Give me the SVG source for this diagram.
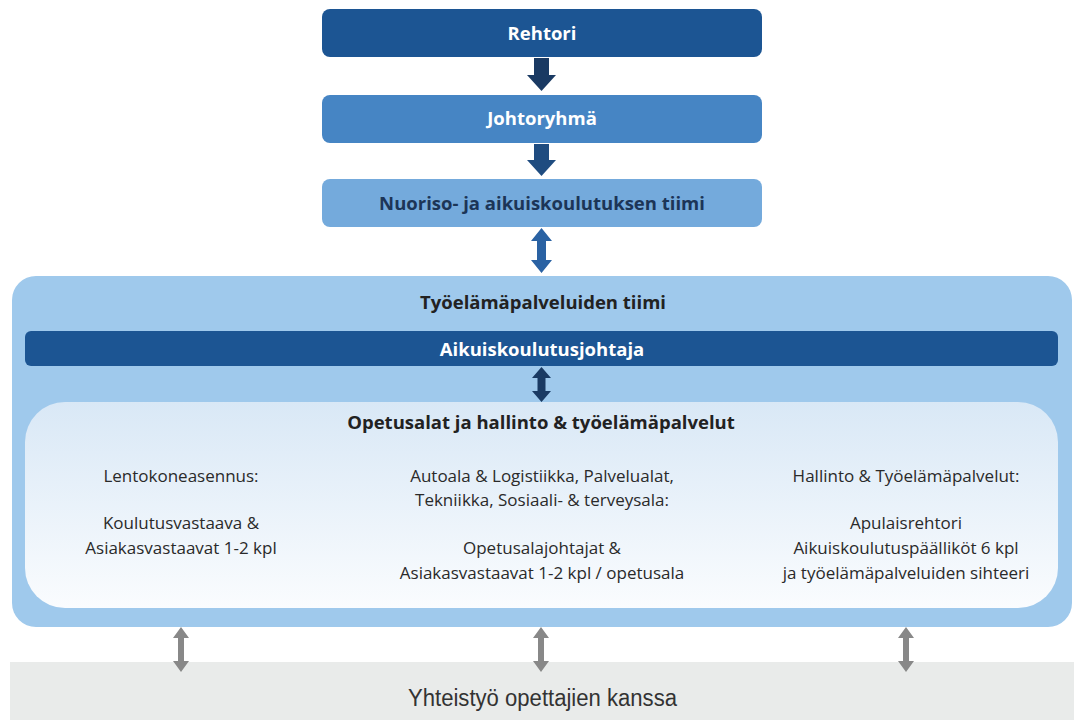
<svg xmlns="http://www.w3.org/2000/svg" width="1074" height="720" viewBox="0 0 1074 720">
  <style>
    .t { font-family: "Open Sans", Lato, "Liberation Sans", sans-serif; text-anchor: middle; }
    .b { font-weight: bold; font-size: 18.5px; }
    .w { fill: #ffffff; }
    .d { fill: #222222; }
    .n { fill: #1c3557; }
    .c { font-size: 17px; fill: #2a2a2a; }
  </style>
  <defs>
    <linearGradient id="innerFill" x1="0" y1="0" x2="0" y2="1">
      <stop offset="0" stop-color="#d9e8f6"/>
      <stop offset="1" stop-color="#fafcfe"/>
    </linearGradient>
  </defs>

  <!-- collaboration band -->
  <g id="yhteistyo">
    <rect x="10" y="662" width="1064" height="58" fill="#e9ebea"/>
    <text x="542.5" y="706" font-family="'Liberation Sans', Arial, sans-serif" font-size="23.5" fill="#333333" text-anchor="middle" textLength="269" lengthAdjust="spacingAndGlyphs">Yhteistyö opettajien kanssa</text>
  </g>

  <!-- top chain -->
  <g id="rehtori">
    <rect x="322" y="9" width="440" height="48" rx="8" fill="#1c5593"/>
    <text class="t b w" x="542" y="40">Rehtori</text>
  </g>
  <g id="johtoryhma">
    <rect x="322" y="95" width="440" height="48" rx="8" fill="#4685c4"/>
    <text class="t b w" x="542" y="125">Johtoryhmä</text>
  </g>
  <g id="nuoriso">
    <rect x="322" y="179" width="440" height="48" rx="8" fill="#74aadc"/>
    <text class="t b n" x="542" y="210">Nuoriso- ja aikuiskoulutuksen tiimi</text>
  </g>

  <!-- team container -->
  <g id="tyoelamapalvelut">
    <rect x="12" y="276" width="1060" height="351" rx="24" fill="#9fc9ec"/>
    <text class="t b d" x="543" y="309">Työelämäpalveluiden tiimi</text>
  </g>
  <g id="aikuiskoulutusjohtaja">
    <rect x="25" y="331" width="1033" height="35" rx="6" fill="#1c5593"/>
    <text class="t b w" x="542" y="356">Aikuiskoulutusjohtaja</text>
  </g>
  <g id="opetusalat">
    <rect x="25" y="402" width="1033" height="206" rx="40" fill="url(#innerFill)"/>
    <text class="t b d" x="541" y="429">Opetusalat ja hallinto &amp; työelämäpalvelut</text>
    <text class="t c" x="181" y="482">Lentokoneasennus:</text>
    <text class="t c" x="181" y="529">Koulutusvastaava &amp;</text>
    <text class="t c" x="181" y="554">Asiakasvastaavat 1-2 kpl</text>
    <text class="t c" x="542" y="482">Autoala &amp; Logistiikka, Palvelualat,</text>
    <text class="t c" x="542" y="506">Tekniikka, Sosiaali- &amp; terveysala:</text>
    <text class="t c" x="542" y="554">Opetusalajohtajat &amp;</text>
    <text class="t c" x="542" y="579">Asiakasvastaavat 1-2 kpl / opetusala</text>
    <text class="t c" x="906" y="482">Hallinto &amp; Työelämäpalvelut:</text>
    <text class="t c" x="906" y="529">Apulaisrehtori</text>
    <text class="t c" x="906" y="554">Aikuiskoulutuspäälliköt 6 kpl</text>
    <text class="t c" x="906" y="579">ja työelämäpalveluiden sihteeri</text>
  </g>

  <!-- connectors -->
  <g id="connectors">
    <polygon points="534,58 549,58 549,75 556,75 541.5,91 527,75 534,75" fill="#1a3a63"/>
    <polygon points="534,144 549,144 549,160 556,160 541.5,176 527,160 534,160" fill="#1f4c80"/>
    <polygon points="541.5,228 552,241 546,241 546,260 552,260 541.5,273 531,260 537,260 537,241 531,241" fill="#2a62a3"/>
    <polygon points="541.5,367 551,378 545.5,378 545.5,391 551,391 541.5,402 532,391 537.5,391 537.5,378 532,378" fill="#1a3a63"/>
    <polygon points="181,627 189,638 184,638 184,661 189,661 181,672 173,661 178,661 178,638 173,638" fill="#888888"/>
    <polygon points="541,627 549,638 544,638 544,661 549,661 541,672 533,661 538,661 538,638 533,638" fill="#888888"/>
    <polygon points="906,627 914,638 909,638 909,661 914,661 906,672 898,661 903,661 903,638 898,638" fill="#888888"/>
  </g>
</svg>
